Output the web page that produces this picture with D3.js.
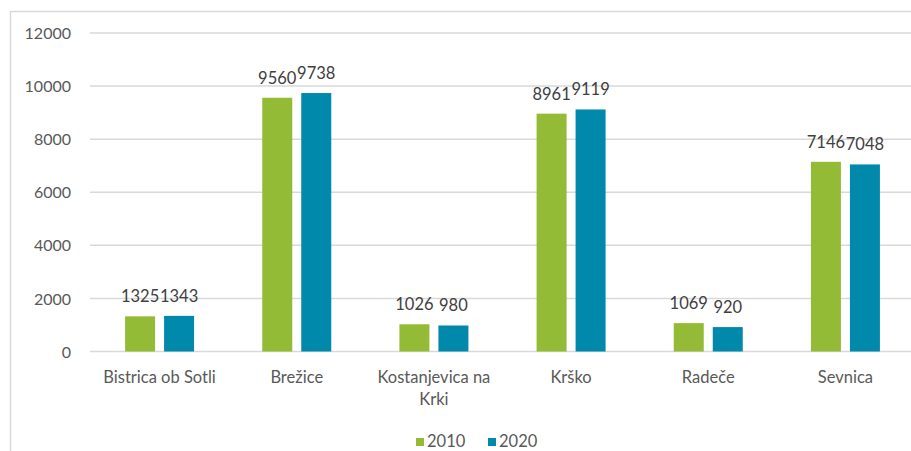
<!DOCTYPE html>
<html>
<head>
<meta charset="utf-8">
<script src="https://cdn.jsdelivr.net/npm/d3@7"></script>
<style>
  body { margin: 0; background: #fff; }
  svg { display: block; }
  text { font-family: Lato, "Open Sans", sans-serif; }
</style>
</head>
<body>
<div id="chart"></div>
<script>
// data
var categories = ["Bistrica ob Sotli", "Brežice", "Kostanjevica na Krki", "Krško", "Radeče", "Sevnica"];
var series_names = ["2010", "2020"];
var values_2010 = [1325, 9560, 1026, 8961, 1069, 7146];
var values_2020 = [1343, 9738, 980, 9119, 920, 7048];
var y_ticks = [0, 2000, 4000, 6000, 8000, 10000, 12000];
var colors = ["#93bb35", "#0089ab"];

var W = 911, H = 451;
var svg = d3.select("#chart").append("svg")
  .attr("width", W)
  .attr("height", H);

// outer frame (cut on right and bottom like the picture)
svg.append("rect")
  .attr("x", 10.5).attr("y", 11.5)
  .attr("width", 940).attr("height", 460)
  .attr("fill", "white")
  .attr("stroke", "#d9d9d9")
  .attr("stroke-width", 1.5);

var x0 = d3.scaleBand().domain(categories).range([91, 914]);
var x1 = d3.scaleBand().domain(series_names)
  .range([x0.bandwidth() / 2 - 34.5, x0.bandwidth() / 2 + 34.5])
  .paddingInner(9 / 39);
var y = d3.scaleLinear().domain([0, 12000]).range([351.5, 33]);

// gridlines
var grid = svg.append("g");
y_ticks.forEach(function(t) {
  grid.append("line")
    .attr("x1", 90).attr("x2", W)
    .attr("y1", y(t)).attr("y2", y(t))
    .attr("stroke", "#d9d9d9")
    .attr("stroke-width", 1.5);
});

// y axis labels
var yAxis = d3.axisLeft(y).tickValues(y_ticks).tickFormat(d3.format("d")).tickSize(0).tickPadding(0);
var yg = svg.append("g").attr("transform", "translate(71,0)").call(yAxis);
yg.select(".domain").remove();
yg.selectAll("text")
  .attr("fill", "#595959")
  .style("font-size", "16px")
  .attr("dy", "0.35em");

// bars
var rows = categories.map(function(c, i) {
  return { cat: c, vals: [values_2010[i], values_2020[i]] };
});
var groups = svg.selectAll(".cat").data(rows).enter().append("g")
  .attr("transform", function(d) { return "translate(" + x0(d.cat) + ",0)"; });

groups.selectAll("rect").data(function(d) {
  return d.vals.map(function(v, k) { return { s: series_names[k], v: v, k: k }; });
}).enter().append("rect")
  .attr("x", function(d) { return x1(d.s); })
  .attr("y", function(d) { return y(d.v); })
  .attr("width", x1.bandwidth())
  .attr("height", function(d) { return y(0) - y(d.v); })
  .attr("fill", function(d) { return colors[d.k]; });

groups.selectAll(".lbl").data(function(d) {
  return d.vals.map(function(v, k) { return { s: series_names[k], v: v }; });
}).enter().append("text")
  .attr("class", "lbl")
  .attr("x", function(d) { return x1(d.s) + x1.bandwidth() / 2; })
  .attr("y", function(d) { return y(d.v) - 14; })
  .attr("text-anchor", "middle")
  .attr("fill", "#404040")
  .style("font-size", "16.5px")
  .text(function(d) { return d.v; });

// category labels
var catLines = {
  "Kostanjevica na Krki": ["Kostanjevica na", "Krki"]
};
categories.forEach(function(c) {
  var lines = catLines[c] || [c];
  var t = svg.append("text")
    .attr("x", x0(c) + x0.bandwidth() / 2)
    .attr("y", 383)
    .attr("text-anchor", "middle")
    .attr("fill", "#595959")
    .style("font-size", "16.5px");
  lines.forEach(function(l, i) {
    t.append("tspan")
      .attr("x", x0(c) + x0.bandwidth() / 2)
      .attr("dy", i == 0 ? 0 : 22)
      .text(l);
  });
});

// legend
var legend_x = [416, 488];
series_names.forEach(function(s, i) {
  svg.append("rect")
    .attr("x", legend_x[i]).attr("y", 438)
    .attr("width", 8).attr("height", 8)
    .attr("fill", colors[i]);
  svg.append("text")
    .attr("x", legend_x[i] + 11).attr("y", 447)
    .attr("fill", "#595959")
    .style("font-size", "16.5px")
    .text(s);
});
</script>
</body>
</html>
